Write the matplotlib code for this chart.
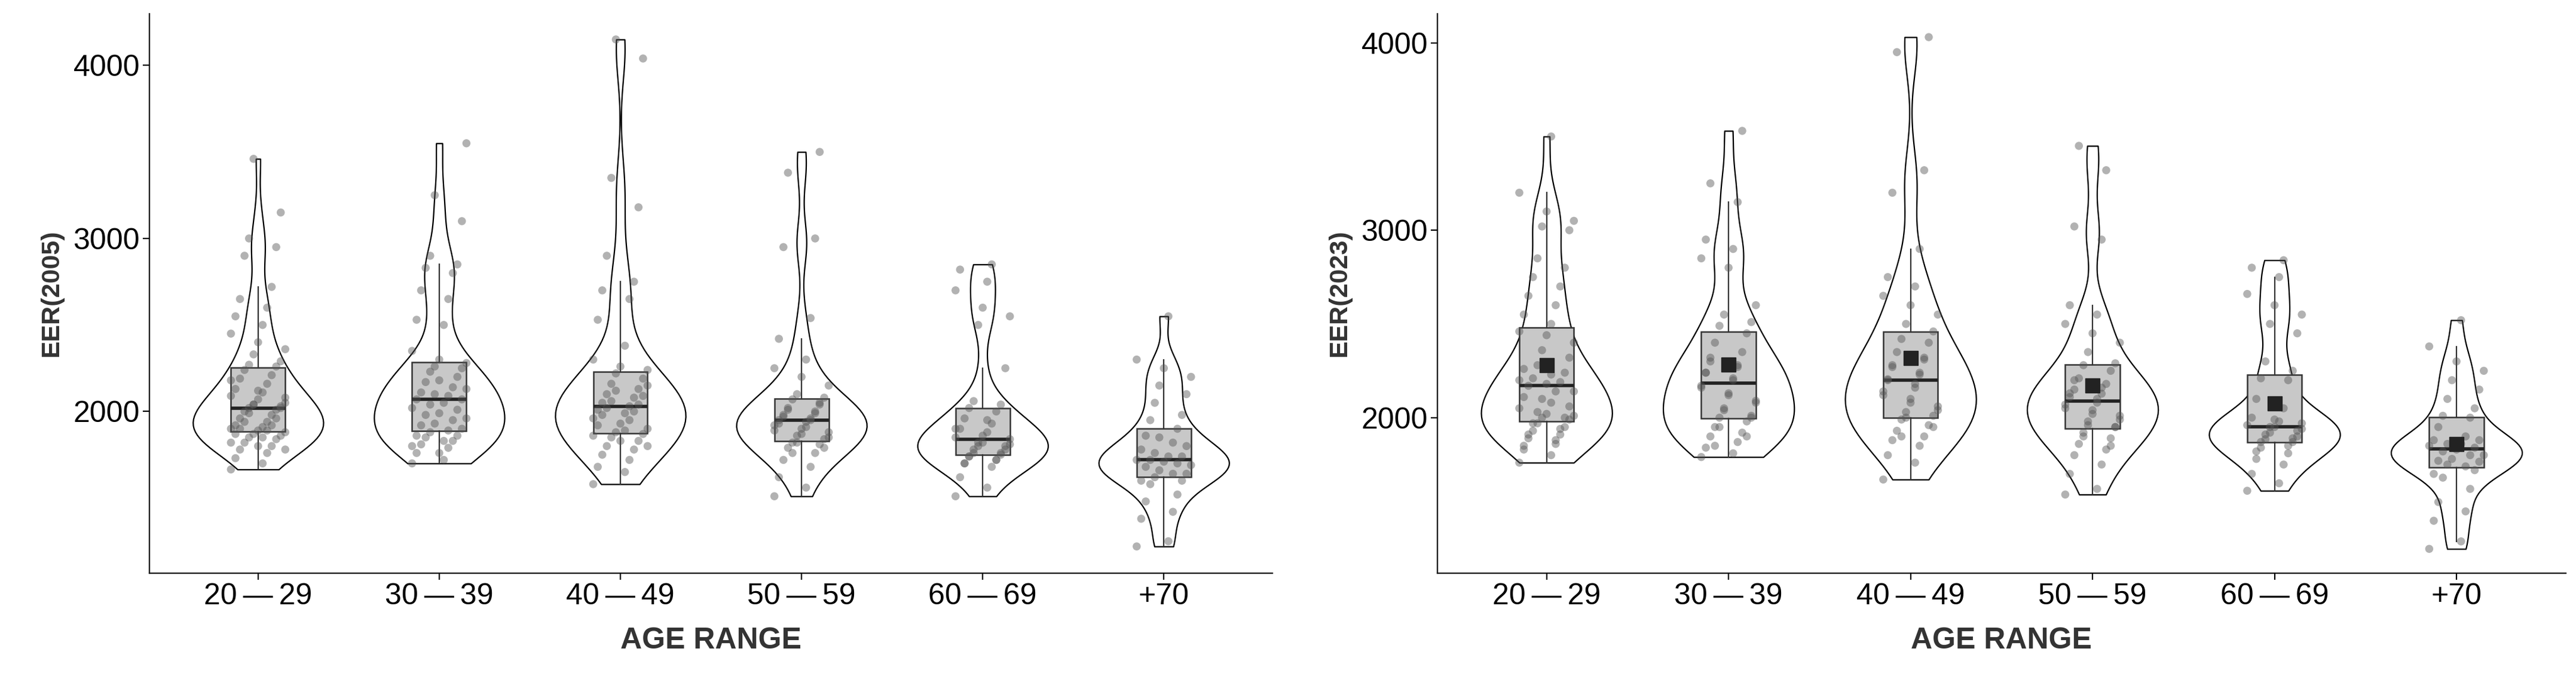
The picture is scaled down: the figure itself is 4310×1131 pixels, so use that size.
import numpy as np
import matplotlib.pyplot as plt

plt.rcParams['font.family'] = ['Liberation Sans Narrow', 'Liberation Sans', 'DejaVu Sans']

age_labels = ['20\u2009\u2014\u200929', '30\u2009\u2014\u200939', '40\u2009\u2014\u200949',
              '50\u2009\u2014\u200959', '60\u2009\u2014\u200969', '+70']

# EER values
eer2005 = [
    [1665, 1700, 1730, 1760, 1780, 1800, 1820, 1840, 1850, 1860, 1870, 1880, 1890, 1900, 1910,
     1920, 1940, 1960, 1980, 2000, 2010, 2020, 2030, 2040, 2050, 2070, 2090, 2110, 2130, 2160,
     2190, 2210, 2240, 2260, 2270, 2290, 2330, 2360, 2400, 2450, 2500, 2550, 2600, 2650, 2720,
     2900, 2950, 3000, 3150, 3460,
     1780, 1800, 1820, 1850, 1870, 1890, 1900, 1920, 1940, 1960, 1990, 2020, 2040, 2080, 2120, 2180],
    [1700, 1720, 1760, 1790, 1810, 1830, 1850, 1860, 1880, 1900, 1930, 1960, 1990, 2020, 2050,
     2070, 2090, 2110, 2140, 2170, 2200, 2230, 2250, 2260, 2280, 2300, 2350, 2500, 2530, 2650,
     2700, 2800, 2830, 2850, 2900, 3100, 3250, 3550,
     1760, 1800, 1830, 1860, 1890, 1920, 1950, 1980, 2010, 2040, 2070, 2100, 2130, 2180],
    [1580, 1650, 1680, 1720, 1750, 1780, 1800, 1830, 1850, 1870, 1880, 1900, 1930, 1960, 1990,
     2010, 2030, 2050, 2080, 2100, 2130, 2160, 2190, 2220, 2240, 2260, 2300, 2380, 2530, 2650,
     2700, 2750, 2900, 3180, 3350, 4040, 4150,
     1800, 1830, 1860, 1890, 1920, 1950, 1980, 2000, 2020, 2040, 2060, 2090, 2120, 2150],
    [1510, 1560, 1620, 1680, 1720, 1760, 1790, 1810, 1820, 1840, 1860, 1880, 1900, 1920, 1940,
     1950, 1960, 1980, 2000, 2020, 2050, 2070, 2080, 2100, 2150, 2200, 2250, 2300, 2420, 2540,
     2950, 3000, 3380, 3500,
     1760, 1790, 1820, 1850, 1870, 1890, 1910, 1930, 1950, 1970, 1990, 2010, 2040],
    [1510, 1560, 1620, 1680, 1700, 1720, 1740, 1750, 1760, 1780, 1800, 1810, 1820, 1850, 1880,
     1900, 1930, 1960, 2000, 2020, 2040, 2060, 2250, 2500, 2550, 2600, 2700, 2750, 2820, 2850,
     1700, 1720, 1740, 1760, 1780, 1800, 1820, 1840, 1860, 1900, 1950],
    [1220, 1250, 1380, 1420, 1480, 1520, 1580, 1600, 1620, 1640, 1660, 1690, 1710, 1720, 1740,
     1780, 1820, 1860, 1900, 1950, 1980, 2050, 2100, 2150, 2200, 2250, 2300, 2550,
     1600, 1640, 1680, 1700, 1720, 1740, 1760, 1800, 1850],
]

# EER values
eer2023 = [
    [1760, 1800, 1830, 1860, 1890, 1910, 1930, 1950, 1970, 1990, 2000, 2010, 2020, 2050, 2080,
     2110, 2140, 2170, 2190, 2210, 2240, 2280, 2320, 2360, 2400, 2440, 2460, 2500, 2550, 2600,
     2650, 2700, 2750, 2800, 2850, 3000, 3020, 3050, 3100, 3200, 3500,
     1850, 1880, 1910, 1940, 1970, 2000, 2030, 2060, 2100, 2140, 2180, 2200, 2230, 2260],
    [1790, 1810, 1840, 1870, 1900, 1920, 1950, 1980, 2000, 2010, 2050, 2090, 2130, 2170, 2210,
     2240, 2270, 2300, 2350, 2400, 2450, 2490, 2510, 2550, 2600, 2800, 2850, 2900, 2950, 3150,
     3250, 3530,
     1850, 1900, 1950, 2000, 2040, 2080, 2120, 2160, 2200, 2240, 2280, 2320],
    [1670, 1760, 1800, 1850, 1880, 1900, 1930, 1960, 1990, 2010, 2030, 2060, 2100, 2140, 2180,
     2205, 2230, 2270, 2310, 2350, 2400, 2420, 2460, 2500, 2550, 2600, 2650, 2700, 2750, 2900,
     3200, 3320, 3950, 4030,
     1900, 1950, 2000, 2040, 2080, 2120, 2160, 2200, 2240, 2280, 2320],
    [1590, 1620, 1700, 1750, 1800, 1830, 1860, 1890, 1920, 1950, 1960, 1990, 2020, 2050, 2080,
     2110, 2128, 2150, 2180, 2210, 2250, 2280, 2290, 2350, 2400, 2450, 2500, 2550, 2600, 2950,
     3020, 3320, 3450,
     1850, 1900, 1950, 1980, 2010, 2040, 2070, 2100, 2130, 2160, 2200],
    [1610, 1650, 1700, 1750, 1780, 1810, 1840, 1870, 1885, 1900, 1920, 1940, 1950, 1960, 1980,
     2000, 2050, 2100, 2200, 2210, 2250, 2300, 2450, 2500, 2550, 2600, 2660, 2750, 2800, 2840,
     1820, 1850, 1870, 1890, 1910, 1930, 1950, 1970, 1990],
    [1300, 1340, 1450, 1500, 1550, 1620, 1680, 1720, 1750, 1765, 1780, 1800, 1830, 1850, 1860,
     1880, 1900, 1950, 2000, 2010, 2050, 2100, 2150, 2200, 2250, 2300, 2380, 2520,
     1700, 1740, 1770, 1800, 1820, 1840, 1860, 1880],
]


def panel(ax, data, ylabel, ylim, yticks, show_mean):
    pos = np.arange(1, len(data) + 1)
    parts = ax.violinplot(data, positions=pos, widths=0.72, showextrema=False,
                          bw_method=0.32)
    for b in parts['bodies']:
        b.set_facecolor('white')
        b.set_edgecolor('black')
        b.set_linewidth(1.6)
        b.set_alpha(1)
    ax.boxplot(data, positions=pos, widths=0.3, patch_artist=True, showfliers=False,
               showcaps=False,
               boxprops=dict(facecolor='#c8c8c8', edgecolor='#333333', linewidth=1.8),
               medianprops=dict(color='#222222', linewidth=4),
               whiskerprops=dict(color='#333333', linewidth=1.6))
    for i, vals in enumerate(data):
        n = len(vals)
        # deterministic jitter pattern
        offs = ((np.arange(n) * 7) % 13 - 6) / 6 * 0.15
        ax.scatter(pos[i] + offs, vals, s=95, color='#555555', alpha=0.45,
                   edgecolors='none', zorder=4)
        if show_mean:
            ax.plot(pos[i], np.mean(vals), 's', ms=17, color='#222222', zorder=5)
    ax.set_xlim(0.4, 6.6)
    ax.set_ylim(*ylim)
    ax.set_yticks(yticks)
    ax.set_xticks(pos)
    ax.set_xticklabels(age_labels)
    ax.tick_params(labelsize=36, length=8, width=1.6, colors='black')
    ax.spines[['top', 'right']].set_visible(False)
    ax.spines[['left', 'bottom']].set_linewidth(1.6)
    ax.set_xlabel('AGE RANGE', fontsize=36, fontweight='bold', color='#333333', labelpad=20)
    ax.set_ylabel(ylabel, fontsize=31, fontweight='bold', color='#333333', labelpad=12,
                  family=['Liberation Sans', 'DejaVu Sans'])


fig = plt.figure(figsize=(43.1, 11.31), dpi=100)
ax1 = fig.add_axes([0.058, 0.152, 0.436, 0.828])
ax2 = fig.add_axes([0.558, 0.152, 0.438, 0.828])
panel(ax1, eer2005, 'EER(2005)', (1065, 4300), [2000, 3000, 4000], False)
panel(ax2, eer2023, 'EER(2023)', (1170, 4156), [2000, 3000, 4000], True)

fig.savefig('out.png', dpi=100)
